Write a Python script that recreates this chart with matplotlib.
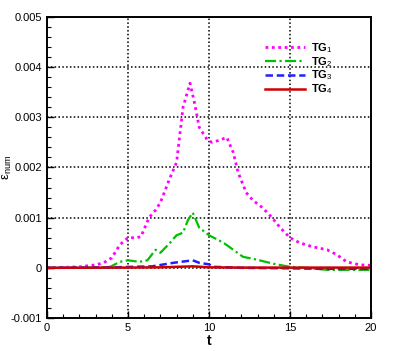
import matplotlib
matplotlib.use("Agg")
import matplotlib.pyplot as plt
from matplotlib.ticker import MultipleLocator, FuncFormatter

plt.rcParams['font.family'] = ['Liberation Sans', 'DejaVu Sans']
plt.rcParams['mathtext.fontset'] = 'custom'
plt.rcParams['mathtext.rm'] = 'Liberation Sans'
plt.rcParams['mathtext.bf'] = 'Liberation Sans:bold'

t1 = [0, 1, 2, 3, 3.5, 4, 4.5, 5, 5.5, 5.8, 6.3, 6.7, 7.0, 7.6, 8.0, 8.4, 8.83, 9.1, 9.4, 9.9, 10.2, 10.7, 11.1, 11.5, 11.8,
      12.3, 12.7, 13.3, 13.9, 14.4, 15.0, 15.6, 16.4, 17.3, 17.9, 18.5, 19.3, 20]
e1 = [0, 0.00001, 0.00002, 0.00006, 0.0001, 0.0002, 0.00046, 0.0006, 0.0006, 0.00062, 0.001, 0.00115, 0.0013, 0.0018, 0.0021,
      0.0032, 0.00368, 0.0033, 0.0028, 0.00255, 0.0025, 0.00255, 0.0026, 0.0023, 0.0019,
      0.0015, 0.00135, 0.0012, 0.001, 0.0008, 0.0006, 0.0005, 0.00042, 0.00036, 0.00026, 0.00012, 0.00006, 0.00005]

t2 = [0, 2, 3.5, 3.9, 4.5, 5.0, 5.7, 6.2, 6.7, 7.0, 7.6, 8.0, 8.4, 8.7, 9.0, 9.4, 10.0, 10.9, 11.5, 12.1, 13.0, 14.0, 15.0, 16.0,
      17.3, 20]
e2 = [0, 0, 0.00001, 0.00002, 0.00012, 0.00015, 0.00012, 0.00015, 0.00036, 0.0003, 0.0005, 0.00065, 0.0007, 0.00095, 0.0011,
      0.0008, 0.00065, 0.0005, 0.00036, 0.00022, 0.00016, 0.00008, 0.00002, 0.0, -0.00004, -0.00004]

t3 = [0, 4, 6.5, 7.8, 9.0, 9.4, 10.0, 10.3, 12, 15, 17, 20]
e3 = [0, 0.00001, 0.00003, 0.0001, 0.00015, 0.0001, 0.00007, 0.00002, 0.0, -0.00001, -0.00002, -0.00002]

t4 = [0, 5, 7, 9, 10, 12, 15, 20]
e4 = [0, 0.000005, 0.00001, 0.00003, 0.00001, 0.000005, 0.000005, 0.000005]

labels = [r'TG$_1$', r'TG$_2$', r'TG$_3$', r'TG$_4$']

fig = plt.figure(figsize=(3.95, 3.51), dpi=100)
ax = fig.add_axes([0.119, 0.094, 0.820, 0.8576])

ax.plot(t1, e1, color='#ff00ff', lw=2.0, linestyle=(0, (1, 1.3)), label=labels[0])
ax.plot(t2, e2, color='#00c000', lw=1.6, linestyle=(0, (5, 1.5, 1, 1.5)), label=labels[1])
ax.plot(t3, e3, color='#2020ff', lw=1.8, linestyle=(0, (3, 1.5)), label=labels[2])
ax.plot(t4, e4, color='#d00000', lw=1.8, linestyle='-', label=labels[3])

ax.set_xlim(0, 20)
ax.set_ylim(-0.001, 0.005)
ax.xaxis.set_major_locator(MultipleLocator(5))
ax.xaxis.set_minor_locator(MultipleLocator(1))
ax.yaxis.set_major_locator(MultipleLocator(0.001))
ax.yaxis.set_minor_locator(MultipleLocator(0.0002))

def yfmt(v, pos):
    if abs(v) < 1e-12:
        return '0'
    return '%.3f' % v
ax.yaxis.set_major_formatter(FuncFormatter(yfmt))
ax.xaxis.set_major_formatter(FuncFormatter(lambda v, p: '%d' % round(v)))

ax.tick_params(which='both', direction='in', labelsize=8, top=False, right=False)
ax.tick_params(which='major', length=5, width=1)
ax.tick_params(which='minor', length=3, width=0.8)
for s in ax.spines.values():
    s.set_linewidth(1.4)

ax.grid(True, which='major', color='black', linestyle=(0, (1, 1.5)), linewidth=1.1)

ax.set_xlabel('t', fontsize=10, fontweight='bold', labelpad=1)
ax.set_ylabel(r'ε$_{\mathrm{num}}$', fontsize=9.5)
ax.yaxis.set_label_coords(-0.102, 0.5)

leg = ax.legend(loc='upper left', bbox_to_anchor=(0.66, 0.935), frameon=False, fontsize=8,
                handlelength=3.6, handletextpad=0.5, labelspacing=0.0, borderaxespad=0)
for txt in leg.get_texts():
    txt.set_fontweight('bold')

fig.savefig('out.png', dpi=100)
